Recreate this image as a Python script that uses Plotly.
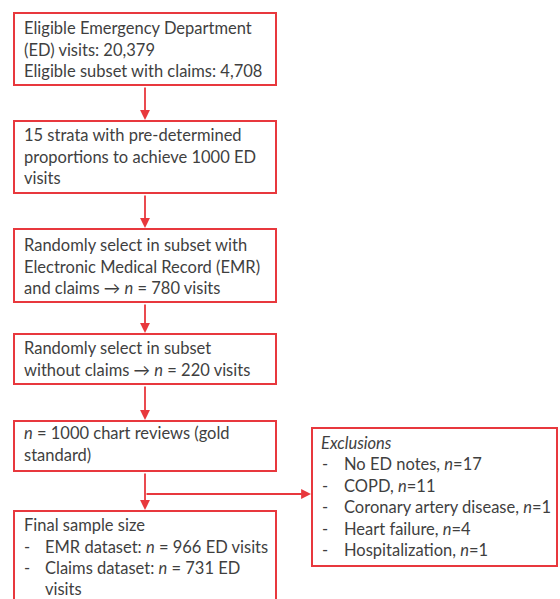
import plotly.graph_objects as go

# ---- content ----
box_lines = [
    ["Eligible Emergency Department", "(ED) visits: 20,379", "Eligible subset with claims: 4,708"],
    ["15 strata with pre-determined", "proportions to achieve 1000 ED", "visits"],
    ["Randomly select in subset with", "Electronic Medical Record (EMR)", "and claims \u2192 <i>n</i> = 780 visits"],
    ["Randomly select in subset", "without claims \u2192 <i>n</i> = 220 visits"],
    ["<i>n</i> = 1000 chart reviews (gold", "standard)"],
]
final_title = "Final sample size"
final_items = ["EMR dataset: <i>n</i> = 966 ED visits", "Claims dataset: <i>n</i> = 731 ED", "visits"]
final_bullets = ["-", "-", ""]
excl_title = "<i>Exclusions</i>"
excl_items = ["No ED notes, <i>n</i>=17", "COPD, <i>n</i>=11", "Coronary artery disease, <i>n</i>=1",
              "Heart failure, <i>n</i>=4", "Hospitalization, <i>n</i>=1"]

# ---- layout geometry ----
W, H = 560, 599
RED = "#e8383d"
TXT = "#3f3f3f"
FONT = dict(family="Lato, Open Sans, sans-serif", size=16.5, color=TXT)
LH = 21.5
bx0, bx1 = 14, 276
box_y = [(13, 85), (121, 193), (229, 302), (334, 384), (421, 471)]
first_line = [28, 135, 245, 348, 433]
final_box = (511, 602)
excl_box = (312, 428, 557, 566)
cx = 145

fig = go.Figure()
fig.add_trace(go.Scatter(x=[0], y=[0], mode="markers", marker=dict(opacity=0), hoverinfo="skip", showlegend=False))

shapes = []
ann = []

def text(x, y, t):
    ann.append(dict(x=x, y=y, xref="x", yref="y", text=t, showarrow=False,
                    xanchor="left", yanchor="middle", align="left", font=FONT))

for (y0, y1), lines, fl in zip(box_y, box_lines, first_line):
    shapes.append(dict(type="rect", x0=bx0, x1=bx1, y0=y0, y1=y1, xref="x", yref="y",
                       line=dict(color=RED, width=2), fillcolor="white"))
    for i, t in enumerate(lines):
        text(22, fl + i * LH, t)

# final box
shapes.append(dict(type="rect", x0=bx0, x1=bx1, y0=final_box[0], y1=final_box[1], xref="x", yref="y",
                   line=dict(color=RED, width=2), fillcolor="white"))
text(22, 525, final_title)
for i, (b, t) in enumerate(zip(final_bullets, final_items)):
    if b:
        text(22, 547 + i * 21, b)
    text(43, 547 + i * 21, t)

# exclusions box
ex0, ey0, ex1, ey1 = excl_box
shapes.append(dict(type="rect", x0=ex0, x1=ex1, y0=ey0, y1=ey1, xref="x", yref="y",
                   line=dict(color=RED, width=2), fillcolor="white"))
text(319, 443, excl_title)
for i, t in enumerate(excl_items):
    text(320, 464 + i * LH, "-")
    text(342, 464 + i * LH, t)

# arrows between main boxes
ys = box_y + [final_box]
for i in range(len(ys) - 1):
    ann.append(dict(x=cx, y=ys[i + 1][0] - 1, ax=cx, ay=ys[i][1] + 1, xref="x", yref="y",
                    axref="x", ayref="y", showarrow=True, arrowhead=2, arrowsize=1.1,
                    arrowwidth=1.8, arrowcolor=RED, text=""))
# branch to exclusions
ann.append(dict(x=ex0 - 1, y=494, ax=cx, ay=494, xref="x", yref="y", axref="x", ayref="y",
                showarrow=True, arrowhead=2, arrowsize=1.1, arrowwidth=1.8, arrowcolor=RED, text=""))

fig.update_layout(
    width=W, height=H, margin=dict(l=0, r=0, t=0, b=0),
    paper_bgcolor="white", plot_bgcolor="white",
    xaxis=dict(range=[0, W], visible=False, fixedrange=True),
    yaxis=dict(range=[H, 0], visible=False, fixedrange=True),
    shapes=shapes, annotations=ann, showlegend=False,
)
fig.write_html("out.html", config={"displayModeBar": False},
               post_script="document.body.style.margin='0';document.body.style.overflow='hidden';")
